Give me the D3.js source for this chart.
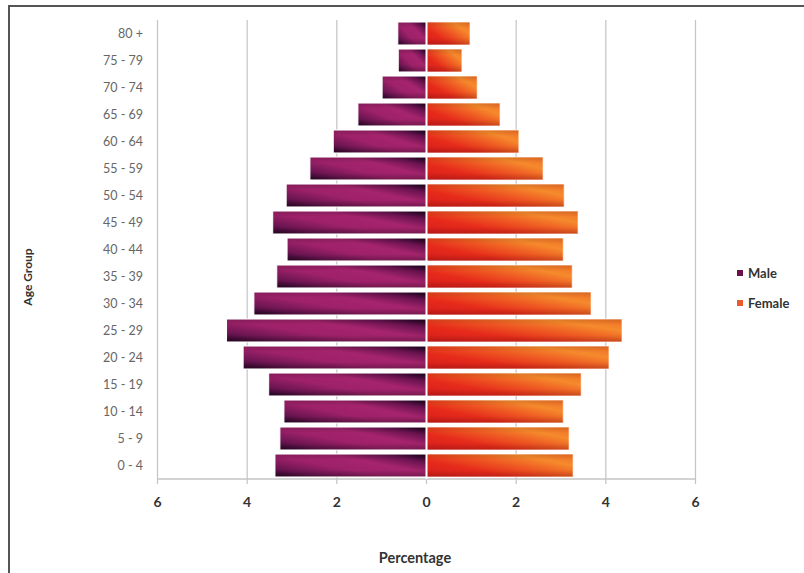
<!DOCTYPE html>
<html><head><meta charset="utf-8">
<script src="https://cdn.jsdelivr.net/npm/d3@7"></script>
<style>body{margin:0;background:#fff}svg{display:block}</style>
</head><body>
<svg id="c" width="804" height="573"></svg>
<script>
const ageGroups = ["0 - 4","5 - 9","10 - 14","15 - 19","20 - 24","25 - 29","30 - 34","35 - 39","40 - 44","45 - 49","50 - 54","55 - 59","60 - 64","65 - 69","70 - 74","75 - 79","80 +"];
const maleValues   = [3.38,3.27,3.18,3.52,4.09,4.46,3.85,3.34,3.11,3.43,3.13,2.60,2.08,1.53,0.99,0.63,0.64];
const femaleValues = [3.27,3.18,3.05,3.45,4.07,4.36,3.67,3.25,3.05,3.38,3.07,2.60,2.06,1.64,1.13,0.79,0.97];
const xTicks = [-6,-4,-2,0,2,4,6];
const seriesNames = ["Male","Female"];

const svg = d3.select("#c");
const font = "Lato, 'Open Sans', sans-serif";

// frame
svg.append("rect").attr("x",9).attr("y",6).attr("width",820).attr("height",600)
  .attr("fill","none").attr("stroke","#555").attr("stroke-width",2);

const defs = svg.append("defs");
const gm = defs.append("linearGradient").attr("id","gm").attr("x1",0).attr("y1",0.9).attr("x2",1).attr("y2",0.1);
[[0,"#3a0932"],[0.15,"#6c1551"],[0.4,"#9e216a"],[0.65,"#a5246d"],[0.86,"#6a1350"],[1,"#2a0626"]]
  .forEach(s=>gm.append("stop").attr("offset",s[0]).attr("stop-color",s[1]));
const gf = defs.append("linearGradient").attr("id","gf").attr("x1",0).attr("y1",0.9).attr("x2",1).attr("y2",0.1);
[[0,"#d81e1c"],[0.3,"#e62b1b"],[0.55,"#ee5822"],[0.8,"#f58a2c"],[1,"#f27428"]]
  .forEach(s=>gf.append("stop").attr("offset",s[0]).attr("stop-color",s[1]));
const gv = defs.append("linearGradient").attr("id","gv").attr("x1",0).attr("y1",0).attr("x2",0).attr("y2",1);
[[0,"rgba(0,0,0,0.18)"],[0.25,"rgba(0,0,0,0)"],[0.7,"rgba(0,0,0,0)"],[1,"rgba(0,0,0,0.28)"]]
  .forEach(s=>gv.append("stop").attr("offset",s[0]).attr("stop-color",s[1]));

const x = d3.scaleLinear().domain([-6,6]).range([157.5,695.5]);
const y = d3.scaleBand().domain(ageGroups.slice().reverse()).range([20,479]).paddingInner(0.15).paddingOuter(0.075);

// gridlines
svg.append("g").selectAll("line").data(xTicks).join("line")
  .attr("x1",d=>x(d)).attr("x2",d=>x(d)).attr("y1",20).attr("y2",479)
  .attr("stroke","#c4c4c4").attr("stroke-width",1.2);
svg.append("line").attr("x1",x(-6)).attr("x2",x(6)).attr("y1",479).attr("y2",479)
  .attr("stroke","#c4c4c4").attr("stroke-width",1.5);
svg.append("g").selectAll("line").data(xTicks).join("line")
  .attr("x1",d=>x(d)).attr("x2",d=>x(d)).attr("y1",479).attr("y2",484)
  .attr("stroke","#c4c4c4").attr("stroke-width",1.2);

// bars
const mg = svg.append("g").selectAll("g").data(ageGroups).join("g");
mg.append("rect")
  .attr("x",(d,i)=>x(-maleValues[i])).attr("width",(d,i)=>x(0)-x(-maleValues[i]))
  .attr("y",d=>y(d)).attr("height",y.bandwidth())
  .attr("fill","url(#gm)");
mg.append("rect")
  .attr("x",(d,i)=>x(-maleValues[i])).attr("width",(d,i)=>x(0)-x(-maleValues[i]))
  .attr("y",d=>y(d)).attr("height",y.bandwidth())
  .attr("fill","url(#gv)").attr("stroke","#fff").attr("stroke-width",1);
const fg = svg.append("g").selectAll("g").data(ageGroups).join("g");
fg.append("rect")
  .attr("x",x(0)).attr("width",(d,i)=>x(femaleValues[i])-x(0))
  .attr("y",d=>y(d)).attr("height",y.bandwidth())
  .attr("fill","url(#gf)");
fg.append("rect")
  .attr("x",x(0)).attr("width",(d,i)=>x(femaleValues[i])-x(0))
  .attr("y",d=>y(d)).attr("height",y.bandwidth())
  .attr("fill","url(#gv)").attr("opacity",0.6).attr("stroke","#fff").attr("stroke-width",1);
svg.append("line").attr("x1",x(0)).attr("x2",x(0)).attr("y1",20).attr("y2",479)
  .attr("stroke","#fff").attr("stroke-width",2);

// y labels
svg.append("g").selectAll("text").data(ageGroups).join("text")
  .attr("x",143).attr("y",d=>y(d)+y.bandwidth()/2).attr("dy","0.35em")
  .attr("text-anchor","end").attr("font-family",font).attr("font-size",12.5)
  .attr("fill","#666").text(d=>d);

// x tick labels
svg.append("g").selectAll("text").data(xTicks).join("text")
  .attr("x",d=>x(d)).attr("y",502).attr("dy","0.35em").attr("text-anchor","middle")
  .attr("font-family",font).attr("font-size",14).attr("font-weight","bold").attr("fill","#333")
  .text(d=>Math.abs(d));

// axis titles
svg.append("text").attr("x",415).attr("y",558).attr("dy","0.35em").attr("text-anchor","middle")
  .attr("font-family",font).attr("font-size",14.5).attr("font-weight","bold").attr("fill","#333").text("Percentage");
svg.append("text").attr("transform","translate(28,277) rotate(-90)").attr("dy","0.35em").attr("text-anchor","middle")
  .attr("font-family",font).attr("font-size",12).attr("font-weight","bold").attr("fill","#333").text("Age Group");

// legend
const legColors = ["#6a1248","#ea5a2a"];
const leg = svg.append("g").selectAll("g").data(seriesNames).join("g")
  .attr("transform",(d,i)=>`translate(737,${273+i*30})`);
leg.append("rect").attr("x",0).attr("y",-3).attr("width",6).attr("height",6).attr("fill",(d,i)=>legColors[i]);
leg.append("text").attr("x",11).attr("y",0).attr("dy","0.35em")
  .attr("font-family",font).attr("font-size",13).attr("font-weight","bold").attr("fill","#333").text(d=>d);
</script>
</body></html>
